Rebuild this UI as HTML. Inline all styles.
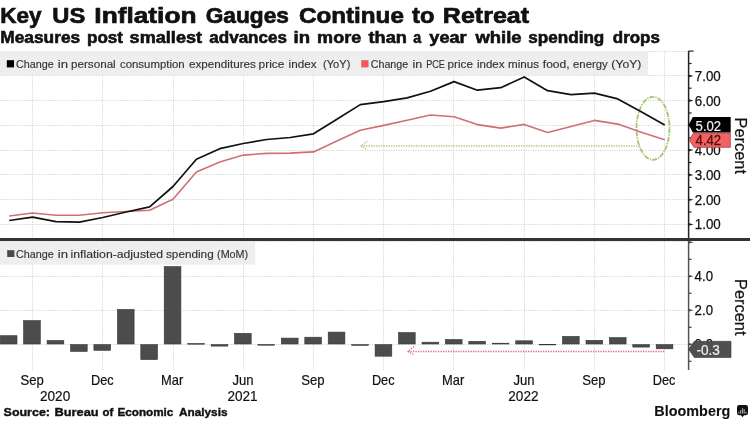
<!DOCTYPE html>
<html><head><meta charset="utf-8"><style>
html,body{margin:0;padding:0;background:#fff;width:750px;height:421px;overflow:hidden}
svg{will-change:transform}
</style></head><body>
<svg width="750" height="421" viewBox="0 0 750 421" style="display:block;font-family:'Liberation Sans', sans-serif">
<rect x="0" y="0" width="750" height="421" fill="#ffffff"/>
<text x="0.30" y="22.6" font-size="22.6" font-weight="bold" fill="#111" stroke="#111" stroke-width="0.7" textLength="41.25" lengthAdjust="spacingAndGlyphs">Key</text>
<text x="52.25" y="22.6" font-size="22.6" font-weight="bold" fill="#111" stroke="#111" stroke-width="0.7" textLength="32.96" lengthAdjust="spacingAndGlyphs">US</text>
<text x="94.34" y="22.6" font-size="22.6" font-weight="bold" fill="#111" stroke="#111" stroke-width="0.7" textLength="102.16" lengthAdjust="spacingAndGlyphs">Inflation</text>
<text x="205.70" y="22.6" font-size="22.6" font-weight="bold" fill="#111" stroke="#111" stroke-width="0.7" textLength="83.18" lengthAdjust="spacingAndGlyphs">Gauges</text>
<text x="298.93" y="22.6" font-size="22.6" font-weight="bold" fill="#111" stroke="#111" stroke-width="0.7" textLength="104.95" lengthAdjust="spacingAndGlyphs">Continue</text>
<text x="412.00" y="22.6" font-size="22.6" font-weight="bold" fill="#111" stroke="#111" stroke-width="0.7" textLength="22.34" lengthAdjust="spacingAndGlyphs">to</text>
<text x="442.89" y="22.6" font-size="22.6" font-weight="bold" fill="#111" stroke="#111" stroke-width="0.7" textLength="86.25" lengthAdjust="spacingAndGlyphs">Retreat</text>
<text x="0.25" y="42.5" font-size="16.5" font-weight="bold" fill="#111" stroke="#111" stroke-width="0.6" textLength="79.90" lengthAdjust="spacingAndGlyphs">Measures</text>
<text x="86.96" y="42.5" font-size="16.5" font-weight="bold" fill="#111" stroke="#111" stroke-width="0.6" textLength="36.07" lengthAdjust="spacingAndGlyphs">post</text>
<text x="129.60" y="42.5" font-size="16.5" font-weight="bold" fill="#111" stroke="#111" stroke-width="0.6" textLength="72.45" lengthAdjust="spacingAndGlyphs">smallest</text>
<text x="209.30" y="42.5" font-size="16.5" font-weight="bold" fill="#111" stroke="#111" stroke-width="0.6" textLength="77.63" lengthAdjust="spacingAndGlyphs">advances</text>
<text x="293.58" y="42.5" font-size="16.5" font-weight="bold" fill="#111" stroke="#111" stroke-width="0.6" textLength="16.48" lengthAdjust="spacingAndGlyphs">in</text>
<text x="317.11" y="42.5" font-size="16.5" font-weight="bold" fill="#111" stroke="#111" stroke-width="0.6" textLength="44.08" lengthAdjust="spacingAndGlyphs">more</text>
<text x="368.50" y="42.5" font-size="16.5" font-weight="bold" fill="#111" stroke="#111" stroke-width="0.6" textLength="38.43" lengthAdjust="spacingAndGlyphs">than</text>
<text x="413.30" y="42.5" font-size="16.5" font-weight="bold" fill="#111" stroke="#111" stroke-width="0.6" textLength="7.90" lengthAdjust="spacingAndGlyphs">a</text>
<text x="429.30" y="42.5" font-size="16.5" font-weight="bold" fill="#111" stroke="#111" stroke-width="0.6" textLength="37.35" lengthAdjust="spacingAndGlyphs">year</text>
<text x="475.50" y="42.5" font-size="16.5" font-weight="bold" fill="#111" stroke="#111" stroke-width="0.6" textLength="46.10" lengthAdjust="spacingAndGlyphs">while</text>
<text x="528.26" y="42.5" font-size="16.5" font-weight="bold" fill="#111" stroke="#111" stroke-width="0.6" textLength="76.09" lengthAdjust="spacingAndGlyphs">spending</text>
<text x="612.80" y="42.5" font-size="16.5" font-weight="bold" fill="#111" stroke="#111" stroke-width="0.6" textLength="47.04" lengthAdjust="spacingAndGlyphs">drops</text>
<line x1="32.5" y1="51.1" x2="32.5" y2="238" stroke="#d6d6d6" stroke-width="1" stroke-dasharray="1.2 1.2"/>
<line x1="102.5" y1="51.1" x2="102.5" y2="238" stroke="#d6d6d6" stroke-width="1" stroke-dasharray="1.2 1.2"/>
<line x1="173.5" y1="51.1" x2="173.5" y2="238" stroke="#d6d6d6" stroke-width="1" stroke-dasharray="1.2 1.2"/>
<line x1="243.5" y1="51.1" x2="243.5" y2="238" stroke="#d6d6d6" stroke-width="1" stroke-dasharray="1.2 1.2"/>
<line x1="313.5" y1="51.1" x2="313.5" y2="238" stroke="#d6d6d6" stroke-width="1" stroke-dasharray="1.2 1.2"/>
<line x1="383.5" y1="51.1" x2="383.5" y2="238" stroke="#d6d6d6" stroke-width="1" stroke-dasharray="1.2 1.2"/>
<line x1="453.5" y1="51.1" x2="453.5" y2="238" stroke="#d6d6d6" stroke-width="1" stroke-dasharray="1.2 1.2"/>
<line x1="524.5" y1="51.1" x2="524.5" y2="238" stroke="#d6d6d6" stroke-width="1" stroke-dasharray="1.2 1.2"/>
<line x1="594.5" y1="51.1" x2="594.5" y2="238" stroke="#d6d6d6" stroke-width="1" stroke-dasharray="1.2 1.2"/>
<line x1="664.5" y1="51.1" x2="664.5" y2="238" stroke="#d6d6d6" stroke-width="1" stroke-dasharray="1.2 1.2"/>
<line x1="0" y1="51.5" x2="688.6" y2="51.5" stroke="#d6d6d6" stroke-width="1" stroke-dasharray="1.2 1.2"/>
<line x1="0" y1="75.5" x2="688.6" y2="75.5" stroke="#d6d6d6" stroke-width="1" stroke-dasharray="1.2 1.2"/>
<line x1="0" y1="100.5" x2="688.6" y2="100.5" stroke="#d6d6d6" stroke-width="1" stroke-dasharray="1.2 1.2"/>
<line x1="0" y1="125.5" x2="688.6" y2="125.5" stroke="#d6d6d6" stroke-width="1" stroke-dasharray="1.2 1.2"/>
<line x1="0" y1="150.5" x2="688.6" y2="150.5" stroke="#d6d6d6" stroke-width="1" stroke-dasharray="1.2 1.2"/>
<line x1="0" y1="174.5" x2="688.6" y2="174.5" stroke="#d6d6d6" stroke-width="1" stroke-dasharray="1.2 1.2"/>
<line x1="0" y1="199.5" x2="688.6" y2="199.5" stroke="#d6d6d6" stroke-width="1" stroke-dasharray="1.2 1.2"/>
<line x1="0" y1="224.5" x2="688.6" y2="224.5" stroke="#d6d6d6" stroke-width="1" stroke-dasharray="1.2 1.2"/>
<line x1="32.5" y1="241.5" x2="32.5" y2="370" stroke="#d6d6d6" stroke-width="1" stroke-dasharray="1.2 1.2"/>
<line x1="102.5" y1="241.5" x2="102.5" y2="370" stroke="#d6d6d6" stroke-width="1" stroke-dasharray="1.2 1.2"/>
<line x1="173.5" y1="241.5" x2="173.5" y2="370" stroke="#d6d6d6" stroke-width="1" stroke-dasharray="1.2 1.2"/>
<line x1="243.5" y1="241.5" x2="243.5" y2="370" stroke="#d6d6d6" stroke-width="1" stroke-dasharray="1.2 1.2"/>
<line x1="313.5" y1="241.5" x2="313.5" y2="370" stroke="#d6d6d6" stroke-width="1" stroke-dasharray="1.2 1.2"/>
<line x1="383.5" y1="241.5" x2="383.5" y2="370" stroke="#d6d6d6" stroke-width="1" stroke-dasharray="1.2 1.2"/>
<line x1="453.5" y1="241.5" x2="453.5" y2="370" stroke="#d6d6d6" stroke-width="1" stroke-dasharray="1.2 1.2"/>
<line x1="524.5" y1="241.5" x2="524.5" y2="370" stroke="#d6d6d6" stroke-width="1" stroke-dasharray="1.2 1.2"/>
<line x1="594.5" y1="241.5" x2="594.5" y2="370" stroke="#d6d6d6" stroke-width="1" stroke-dasharray="1.2 1.2"/>
<line x1="664.5" y1="241.5" x2="664.5" y2="370" stroke="#d6d6d6" stroke-width="1" stroke-dasharray="1.2 1.2"/>
<line x1="0" y1="276.5" x2="688.6" y2="276.5" stroke="#d6d6d6" stroke-width="1" stroke-dasharray="1.2 1.2"/>
<line x1="0" y1="310.5" x2="688.6" y2="310.5" stroke="#d6d6d6" stroke-width="1" stroke-dasharray="1.2 1.2"/>
<line x1="0" y1="344.5" x2="688.6" y2="344.5" stroke="#d6d6d6" stroke-width="1" stroke-dasharray="1.2 1.2"/>
<line x1="0" y1="241.5" x2="688.6" y2="241.5" stroke="#d6d6d6" stroke-width="1" stroke-dasharray="1.2 1.2"/>
<rect x="0" y="51" width="648" height="24.4" fill="#ececec" fill-opacity="0.9"/>
<rect x="6.8" y="60.2" width="7.2" height="7.2" fill="#000"/>
<text x="16.06" y="67.9" font-size="11.5" font-weight="normal" fill="#333" stroke="#333" stroke-width="0.15" textLength="37.82" lengthAdjust="spacingAndGlyphs">Change</text>
<text x="57.86" y="67.9" font-size="11.5" font-weight="normal" fill="#333" stroke="#333" stroke-width="0.15" textLength="10.23" lengthAdjust="spacingAndGlyphs">in</text>
<text x="70.99" y="67.9" font-size="11.5" font-weight="normal" fill="#333" stroke="#333" stroke-width="0.15" textLength="44.74" lengthAdjust="spacingAndGlyphs">personal</text>
<text x="120.00" y="67.9" font-size="11.5" font-weight="normal" fill="#333" stroke="#333" stroke-width="0.15" textLength="64.62" lengthAdjust="spacingAndGlyphs">consumption</text>
<text x="189.00" y="67.9" font-size="11.5" font-weight="normal" fill="#333" stroke="#333" stroke-width="0.15" textLength="66.87" lengthAdjust="spacingAndGlyphs">expenditures</text>
<text x="258.57" y="67.9" font-size="11.5" font-weight="normal" fill="#333" stroke="#333" stroke-width="0.15" textLength="25.77" lengthAdjust="spacingAndGlyphs">price</text>
<text x="288.58" y="67.9" font-size="11.5" font-weight="normal" fill="#333" stroke="#333" stroke-width="0.15" textLength="27.92" lengthAdjust="spacingAndGlyphs">index</text>
<text x="323.04" y="67.9" font-size="11.5" font-weight="normal" fill="#333" stroke="#333" stroke-width="0.15" textLength="27.29" lengthAdjust="spacingAndGlyphs">(YoY)</text>
<rect x="361.3" y="60.2" width="7.2" height="7.2" fill="#f05a5a"/>
<text x="370.67" y="67.9" font-size="11.5" font-weight="normal" fill="#333" stroke="#333" stroke-width="0.15" textLength="37.61" lengthAdjust="spacingAndGlyphs">Change</text>
<text x="412.51" y="67.9" font-size="11.5" font-weight="normal" fill="#333" stroke="#333" stroke-width="0.15" textLength="9.72" lengthAdjust="spacingAndGlyphs">in</text>
<text x="426.21" y="67.9" font-size="11.5" font-weight="normal" fill="#333" stroke="#333" stroke-width="0.15" textLength="18.71" lengthAdjust="spacingAndGlyphs">PCE</text>
<text x="447.58" y="67.9" font-size="11.5" font-weight="normal" fill="#333" stroke="#333" stroke-width="0.15" textLength="25.35" lengthAdjust="spacingAndGlyphs">price</text>
<text x="477.00" y="67.9" font-size="11.5" font-weight="normal" fill="#333" stroke="#333" stroke-width="0.15" textLength="27.50" lengthAdjust="spacingAndGlyphs">index</text>
<text x="507.99" y="67.9" font-size="11.5" font-weight="normal" fill="#333" stroke="#333" stroke-width="0.15" textLength="31.11" lengthAdjust="spacingAndGlyphs">minus</text>
<text x="542.80" y="67.9" font-size="11.5" font-weight="normal" fill="#333" stroke="#333" stroke-width="0.15" textLength="26.81" lengthAdjust="spacingAndGlyphs">food,</text>
<text x="573.00" y="67.9" font-size="11.5" font-weight="normal" fill="#333" stroke="#333" stroke-width="0.15" textLength="34.77" lengthAdjust="spacingAndGlyphs">energy</text>
<text x="611.34" y="67.9" font-size="11.5" font-weight="normal" fill="#333" stroke="#333" stroke-width="0.15" textLength="30.02" lengthAdjust="spacingAndGlyphs">(YoY)</text>
<rect x="0" y="242" width="255.2" height="22.6" fill="#ececec" fill-opacity="0.9"/>
<rect x="7.2" y="250.2" width="7.2" height="6.8" fill="#4a4a4a"/>
<text x="16.06" y="257.9" font-size="11.5" font-weight="normal" fill="#333" stroke="#333" stroke-width="0.15" textLength="37.82" lengthAdjust="spacingAndGlyphs">Change</text>
<text x="57.86" y="257.9" font-size="11.5" font-weight="normal" fill="#333" stroke="#333" stroke-width="0.15" textLength="10.23" lengthAdjust="spacingAndGlyphs">in</text>
<text x="70.54" y="257.9" font-size="11.5" font-weight="normal" fill="#333" stroke="#333" stroke-width="0.15" textLength="92.48" lengthAdjust="spacingAndGlyphs">inflation-adjusted</text>
<text x="165.98" y="257.9" font-size="11.5" font-weight="normal" fill="#333" stroke="#333" stroke-width="0.15" textLength="47.72" lengthAdjust="spacingAndGlyphs">spending</text>
<text x="217.06" y="257.9" font-size="11.5" font-weight="normal" fill="#333" stroke="#333" stroke-width="0.15" textLength="31.14" lengthAdjust="spacingAndGlyphs">(MoM)</text>
<ellipse cx="653" cy="128.3" rx="16.5" ry="31.5" fill="none" stroke="#a6c46a" stroke-width="1.8" stroke-dasharray="5 1.2 1.2 1.2"/>
<polyline points="9.2,216.0 32.6,213.0 56.0,215.3 79.4,215.3 102.8,212.8 126.2,211.5 149.6,210.3 173.0,199.2 196.4,171.9 219.8,162.0 243.3,155.1 266.7,153.4 290.1,153.1 313.5,151.9 336.9,141.0 360.3,130.3 383.7,125.4 407.1,120.2 430.5,115.0 454.0,116.7 477.4,124.6 500.8,128.1 524.2,124.4 547.6,132.6 571.0,126.4 594.4,120.4 617.8,124.1 641.2,132.3 664.7,139.7" fill="none" stroke="#cf7075" stroke-width="1.6" stroke-linejoin="round"/>
<polyline points="9.2,220.5 32.6,217.2 56.0,221.7 79.4,222.2 102.8,217.5 126.2,212.0 149.6,206.8 173.0,186.5 196.4,159.3 219.8,148.7 243.3,143.5 266.7,139.5 290.1,137.5 313.5,133.8 336.9,119.2 360.3,104.6 383.7,101.6 407.1,97.9 430.5,91.2 454.0,81.6 477.4,90.2 500.8,87.7 524.2,76.9 547.6,90.7 571.0,94.7 594.4,93.2 617.8,98.9 641.2,111.8 664.7,124.9" fill="none" stroke="#111" stroke-width="1.7" stroke-linejoin="round"/>
<rect x="0.3" y="335.7" width="16.7" height="8.3" fill="#4c4c4c" stroke="#363636" stroke-width="0.6"/>
<rect x="23.6" y="320.6" width="16.7" height="23.4" fill="#4c4c4c" stroke="#363636" stroke-width="0.6"/>
<rect x="47.1" y="340.5" width="16.7" height="3.5" fill="#4c4c4c" stroke="#363636" stroke-width="0.6"/>
<rect x="70.5" y="344.6" width="16.7" height="6.8" fill="#4c4c4c" stroke="#363636" stroke-width="0.6"/>
<rect x="93.9" y="344.6" width="16.7" height="5.7" fill="#4c4c4c" stroke="#363636" stroke-width="0.6"/>
<rect x="117.4" y="309.4" width="16.7" height="34.6" fill="#4c4c4c" stroke="#363636" stroke-width="0.6"/>
<rect x="140.8" y="344.6" width="16.7" height="15.0" fill="#4c4c4c" stroke="#363636" stroke-width="0.6"/>
<rect x="164.2" y="266.6" width="16.7" height="77.4" fill="#4c4c4c" stroke="#363636" stroke-width="0.6"/>
<rect x="187.7" y="343.6" width="16.7" height="0.6" fill="#4c4c4c" stroke="#363636" stroke-width="0.6"/>
<rect x="211.1" y="344.6" width="16.7" height="1.5" fill="#4c4c4c" stroke="#363636" stroke-width="0.6"/>
<rect x="234.5" y="333.3" width="16.7" height="10.7" fill="#4c4c4c" stroke="#363636" stroke-width="0.6"/>
<rect x="257.9" y="344.6" width="16.7" height="0.6" fill="#4c4c4c" stroke="#363636" stroke-width="0.6"/>
<rect x="281.4" y="338.1" width="16.7" height="5.9" fill="#4c4c4c" stroke="#363636" stroke-width="0.6"/>
<rect x="304.8" y="337.2" width="16.7" height="6.8" fill="#4c4c4c" stroke="#363636" stroke-width="0.6"/>
<rect x="328.2" y="332.1" width="16.7" height="11.9" fill="#4c4c4c" stroke="#363636" stroke-width="0.6"/>
<rect x="351.7" y="344.6" width="16.7" height="0.8" fill="#4c4c4c" stroke="#363636" stroke-width="0.6"/>
<rect x="375.1" y="344.6" width="16.7" height="11.6" fill="#4c4c4c" stroke="#363636" stroke-width="0.6"/>
<rect x="398.5" y="332.6" width="16.7" height="11.4" fill="#4c4c4c" stroke="#363636" stroke-width="0.6"/>
<rect x="422.0" y="342.2" width="16.7" height="1.8" fill="#4c4c4c" stroke="#363636" stroke-width="0.6"/>
<rect x="445.4" y="339.5" width="16.7" height="4.5" fill="#4c4c4c" stroke="#363636" stroke-width="0.6"/>
<rect x="468.8" y="341.3" width="16.7" height="2.7" fill="#4c4c4c" stroke="#363636" stroke-width="0.6"/>
<rect x="492.2" y="343.2" width="16.7" height="0.8" fill="#4c4c4c" stroke="#363636" stroke-width="0.6"/>
<rect x="515.7" y="340.8" width="16.7" height="3.2" fill="#4c4c4c" stroke="#363636" stroke-width="0.6"/>
<rect x="539.1" y="344.3" width="16.7" height="0.6" fill="#4c4c4c" stroke="#363636" stroke-width="0.6"/>
<rect x="562.5" y="336.4" width="16.7" height="7.6" fill="#4c4c4c" stroke="#363636" stroke-width="0.6"/>
<rect x="586.0" y="340.3" width="16.7" height="3.7" fill="#4c4c4c" stroke="#363636" stroke-width="0.6"/>
<rect x="609.4" y="337.6" width="16.7" height="6.4" fill="#4c4c4c" stroke="#363636" stroke-width="0.6"/>
<rect x="632.8" y="344.6" width="16.7" height="2.5" fill="#4c4c4c" stroke="#363636" stroke-width="0.6"/>
<rect x="656.2" y="344.6" width="16.7" height="4.2" fill="#4c4c4c" stroke="#363636" stroke-width="0.6"/>
<rect x="0" y="238" width="750" height="3" fill="#333"/>
<line x1="361" y1="146" x2="641" y2="146" stroke="#abc67c" stroke-width="1.5" stroke-dasharray="1.3 1.2"/>
<polyline points="367.2,141.2 361,146 367.2,149.8" fill="none" stroke="#abc67c" stroke-width="1.3" stroke-dasharray="1.3 1.2"/>
<line x1="408" y1="351.5" x2="665" y2="351.5" stroke="#e06a85" stroke-width="1.5" stroke-dasharray="1.3 1.2"/>
<polyline points="414,346.6 408,351.2 414,355" fill="none" stroke="#e06a85" stroke-width="1.3" stroke-dasharray="1.3 1.2"/>
<line x1="688.6" y1="51" x2="688.6" y2="238" stroke="#222" stroke-width="1.5"/>
<line x1="688.6" y1="241" x2="688.6" y2="370" stroke="#555" stroke-width="1.5"/>
<line x1="688.6" y1="51.1" x2="693.6" y2="51.1" stroke="#222" stroke-width="1.2"/>
<line x1="688.6" y1="63.5" x2="691.6" y2="63.5" stroke="#222" stroke-width="1.2"/>
<polygon points="688.6,74.6 693.6,75.9 688.6,77.2" fill="#222"/>
<text x="694.8" y="80.9" font-size="14.4" fill="#111" stroke="#111" stroke-width="0.25" textLength="26" lengthAdjust="spacingAndGlyphs">7.00</text>
<line x1="688.6" y1="88.2" x2="691.6" y2="88.2" stroke="#222" stroke-width="1.2"/>
<polygon points="688.6,99.3 693.6,100.6 688.6,101.9" fill="#222"/>
<text x="694.8" y="105.6" font-size="14.4" fill="#111" stroke="#111" stroke-width="0.25" textLength="26" lengthAdjust="spacingAndGlyphs">6.00</text>
<line x1="688.6" y1="113.0" x2="691.6" y2="113.0" stroke="#222" stroke-width="1.2"/>
<polygon points="688.6,124.1 693.6,125.4 688.6,126.7" fill="#222"/>
<text x="694.8" y="130.4" font-size="14.4" fill="#111" stroke="#111" stroke-width="0.25" textLength="26" lengthAdjust="spacingAndGlyphs">5.00</text>
<line x1="688.6" y1="137.8" x2="691.6" y2="137.8" stroke="#222" stroke-width="1.2"/>
<polygon points="688.6,148.8 693.6,150.1 688.6,151.4" fill="#222"/>
<text x="694.8" y="155.1" font-size="14.4" fill="#111" stroke="#111" stroke-width="0.25" textLength="26" lengthAdjust="spacingAndGlyphs">4.00</text>
<line x1="688.6" y1="162.5" x2="691.6" y2="162.5" stroke="#222" stroke-width="1.2"/>
<polygon points="688.6,173.6 693.6,174.9 688.6,176.2" fill="#222"/>
<text x="694.8" y="179.9" font-size="14.4" fill="#111" stroke="#111" stroke-width="0.25" textLength="26" lengthAdjust="spacingAndGlyphs">3.00</text>
<line x1="688.6" y1="187.3" x2="691.6" y2="187.3" stroke="#222" stroke-width="1.2"/>
<polygon points="688.6,198.4 693.6,199.7 688.6,201.0" fill="#222"/>
<text x="694.8" y="204.7" font-size="14.4" fill="#111" stroke="#111" stroke-width="0.25" textLength="26" lengthAdjust="spacingAndGlyphs">2.00</text>
<line x1="688.6" y1="212.0" x2="691.6" y2="212.0" stroke="#222" stroke-width="1.2"/>
<polygon points="688.6,223.1 693.6,224.4 688.6,225.7" fill="#222"/>
<text x="694.8" y="229.4" font-size="14.4" fill="#111" stroke="#111" stroke-width="0.25" textLength="26" lengthAdjust="spacingAndGlyphs">1.00</text>
<polygon points="688.6,241.0 693.6,242.3 688.6,243.6" fill="#444"/>
<line x1="688.6" y1="259.3" x2="691.6" y2="259.3" stroke="#444" stroke-width="1.2"/>
<polygon points="688.6,275.0 693.6,276.3 688.6,277.6" fill="#444"/>
<text x="694.6" y="281.3" font-size="14.4" fill="#111" stroke="#111" stroke-width="0.25" textLength="18.4" lengthAdjust="spacingAndGlyphs">4.0</text>
<line x1="688.6" y1="293.3" x2="691.6" y2="293.3" stroke="#444" stroke-width="1.2"/>
<polygon points="688.6,309.0 693.6,310.3 688.6,311.6" fill="#444"/>
<text x="694.6" y="315.3" font-size="14.4" fill="#111" stroke="#111" stroke-width="0.25" textLength="18.4" lengthAdjust="spacingAndGlyphs">2.0</text>
<line x1="688.6" y1="327.3" x2="691.6" y2="327.3" stroke="#444" stroke-width="1.2"/>
<polygon points="688.6,343.0 693.6,344.3 688.6,345.6" fill="#444"/>
<text x="694.6" y="349.3" font-size="14.4" fill="#111" stroke="#111" stroke-width="0.25" textLength="18.4" lengthAdjust="spacingAndGlyphs">0.0</text>
<line x1="688.6" y1="361.3" x2="691.6" y2="361.3" stroke="#444" stroke-width="1.2"/>
<polygon points="689.3,140.2 693.5,133 730.3,133 730.3,147.3 694,147.3" fill="#f06464" stroke="#a84040" stroke-width="0.8"/>
<text x="695.6" y="144.7" font-size="14.2" fill="#5a0c0c" stroke="#5a0c0c" stroke-width="0.3" textLength="25.6" lengthAdjust="spacingAndGlyphs">4.42</text>
<polygon points="688.7,124.8 692.8,117 730.7,117 730.7,132.6 692.8,132.6" fill="#000"/>
<text x="695.6" y="130.5" font-size="14.2" fill="#eeeeee" stroke="#eeeeee" stroke-width="0.2" textLength="25.6" lengthAdjust="spacingAndGlyphs">5.02</text>
<polygon points="688.6,349.2 694.3,341.3 731,341.3 731,357.5 694.3,357.5" fill="#505050" stroke="#3a3a3a" stroke-width="0.6"/>
<text x="696.4" y="354.8" font-size="14.2" fill="#eeeeee" stroke="#eeeeee" stroke-width="0.2" textLength="23.5" lengthAdjust="spacingAndGlyphs">-0.3</text>
<text transform="translate(735,117.5) rotate(90)" font-size="15.8" fill="#111" stroke="#111" stroke-width="0.2" textLength="56.5" lengthAdjust="spacingAndGlyphs">Percent</text>
<text transform="translate(735,279) rotate(90)" font-size="15.8" fill="#111" stroke="#111" stroke-width="0.2" textLength="56.5" lengthAdjust="spacingAndGlyphs">Percent</text>
<text x="20.41" y="384.7" font-size="14.5" font-weight="normal" fill="#111" stroke="#111" stroke-width="0.2" textLength="23.34" lengthAdjust="spacingAndGlyphs">Sep</text>
<text x="90.96" y="384.7" font-size="14.5" font-weight="normal" fill="#111" stroke="#111" stroke-width="0.2" textLength="22.68" lengthAdjust="spacingAndGlyphs">Dec</text>
<text x="161.09" y="384.7" font-size="14.5" font-weight="normal" fill="#111" stroke="#111" stroke-width="0.2" textLength="22.17" lengthAdjust="spacingAndGlyphs">Mar</text>
<text x="232.46" y="384.7" font-size="14.5" font-weight="normal" fill="#111" stroke="#111" stroke-width="0.2" textLength="21.15" lengthAdjust="spacingAndGlyphs">Jun</text>
<text x="301.34" y="384.7" font-size="14.5" font-weight="normal" fill="#111" stroke="#111" stroke-width="0.2" textLength="23.34" lengthAdjust="spacingAndGlyphs">Sep</text>
<text x="371.90" y="384.7" font-size="14.5" font-weight="normal" fill="#111" stroke="#111" stroke-width="0.2" textLength="22.68" lengthAdjust="spacingAndGlyphs">Dec</text>
<text x="442.02" y="384.7" font-size="14.5" font-weight="normal" fill="#111" stroke="#111" stroke-width="0.2" textLength="22.17" lengthAdjust="spacingAndGlyphs">Mar</text>
<text x="513.39" y="384.7" font-size="14.5" font-weight="normal" fill="#111" stroke="#111" stroke-width="0.2" textLength="21.15" lengthAdjust="spacingAndGlyphs">Jun</text>
<text x="582.27" y="384.7" font-size="14.5" font-weight="normal" fill="#111" stroke="#111" stroke-width="0.2" textLength="23.34" lengthAdjust="spacingAndGlyphs">Sep</text>
<text x="652.83" y="384.7" font-size="14.5" font-weight="normal" fill="#111" stroke="#111" stroke-width="0.2" textLength="22.68" lengthAdjust="spacingAndGlyphs">Dec</text>
<text x="39.96" y="400.6" font-size="14.5" font-weight="normal" fill="#111" stroke="#111" stroke-width="0.2" textLength="30.29" lengthAdjust="spacingAndGlyphs">2020</text>
<text x="227.46" y="400.6" font-size="14.5" font-weight="normal" fill="#111" stroke="#111" stroke-width="0.2" textLength="30.18" lengthAdjust="spacingAndGlyphs">2021</text>
<text x="508.26" y="400.6" font-size="14.5" font-weight="normal" fill="#111" stroke="#111" stroke-width="0.2" textLength="30.29" lengthAdjust="spacingAndGlyphs">2022</text>
<text x="3.60" y="416.3" font-size="11.8" font-weight="bold" fill="#111" stroke="#111" stroke-width="0.4" textLength="46.37" lengthAdjust="spacingAndGlyphs">Source:</text>
<text x="54.51" y="416.3" font-size="11.8" font-weight="bold" fill="#111" stroke="#111" stroke-width="0.4" textLength="44.20" lengthAdjust="spacingAndGlyphs">Bureau</text>
<text x="102.60" y="416.3" font-size="11.8" font-weight="bold" fill="#111" stroke="#111" stroke-width="0.4" textLength="10.77" lengthAdjust="spacingAndGlyphs">of</text>
<text x="117.41" y="416.3" font-size="11.8" font-weight="bold" fill="#111" stroke="#111" stroke-width="0.4" textLength="55.98" lengthAdjust="spacingAndGlyphs">Economic</text>
<text x="179.00" y="416.3" font-size="11.8" font-weight="bold" fill="#111" stroke="#111" stroke-width="0.4" textLength="48.53" lengthAdjust="spacingAndGlyphs">Analysis</text>
<text x="654.31" y="415.9" font-size="14.6" font-weight="bold" fill="#111" stroke="#111" stroke-width="0.1" textLength="76.00" lengthAdjust="spacingAndGlyphs">Bloomberg</text>
<rect x="737" y="405" width="11" height="10.3" rx="2.2" fill="#111"/>
<polygon points="740.9,415 742.5,417.3 744.1,415" fill="#111"/>
<rect x="738.2" y="411.8" width="1.2" height="1.8" fill="#9a9a9a"/>
<rect x="740.0" y="410.1" width="1.2" height="3.5" fill="#9a9a9a"/>
<rect x="741.9" y="408.1" width="1.2" height="5.5" fill="#9a9a9a"/>
<rect x="743.6" y="409.1" width="1.2" height="4.5" fill="#9a9a9a"/>
<rect x="745.4" y="411.8" width="1.2" height="1.8" fill="#9a9a9a"/>
</svg>
</body></html>
